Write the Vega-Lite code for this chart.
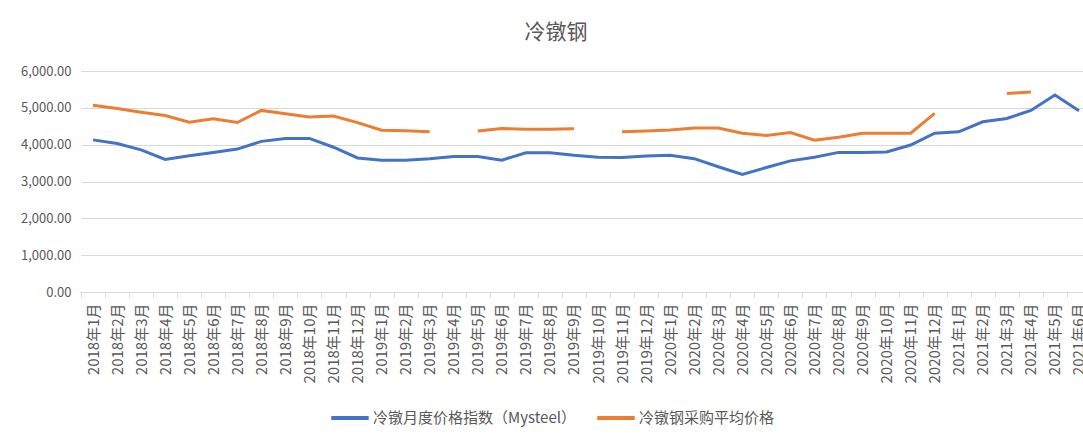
{
  "$schema": "https://vega.github.io/schema/vega-lite/v6.json",
  "autosize": "none",
  "width": 1010,
  "height": 221,
  "padding": {"left": 81, "top": 71, "right": -8, "bottom": 143},
  "background": "white",
  "config": {
    "font": "Noto Sans CJK SC",
    "view": {"stroke": null}
  },
  "title": {
    "text": "冷镦钢",
    "fontSize": 21,
    "fontWeight": "normal",
    "color": "#595959",
    "anchor": "middle",
    "dx": -30,
    "offset": 22
  },
  "data": {
    "values": [
      {"m": "2018年1月", "s": "冷镦月度价格指数（Mysteel）", "v": 4130},
      {"m": "2018年2月", "s": "冷镦月度价格指数（Mysteel）", "v": 4030},
      {"m": "2018年3月", "s": "冷镦月度价格指数（Mysteel）", "v": 3860},
      {"m": "2018年4月", "s": "冷镦月度价格指数（Mysteel）", "v": 3600},
      {"m": "2018年5月", "s": "冷镦月度价格指数（Mysteel）", "v": 3700},
      {"m": "2018年6月", "s": "冷镦月度价格指数（Mysteel）", "v": 3790},
      {"m": "2018年7月", "s": "冷镦月度价格指数（Mysteel）", "v": 3880},
      {"m": "2018年8月", "s": "冷镦月度价格指数（Mysteel）", "v": 4090},
      {"m": "2018年9月", "s": "冷镦月度价格指数（Mysteel）", "v": 4170},
      {"m": "2018年10月", "s": "冷镦月度价格指数（Mysteel）", "v": 4170},
      {"m": "2018年11月", "s": "冷镦月度价格指数（Mysteel）", "v": 3930},
      {"m": "2018年12月", "s": "冷镦月度价格指数（Mysteel）", "v": 3640},
      {"m": "2019年1月", "s": "冷镦月度价格指数（Mysteel）", "v": 3580},
      {"m": "2019年2月", "s": "冷镦月度价格指数（Mysteel）", "v": 3580},
      {"m": "2019年3月", "s": "冷镦月度价格指数（Mysteel）", "v": 3620},
      {"m": "2019年4月", "s": "冷镦月度价格指数（Mysteel）", "v": 3680},
      {"m": "2019年5月", "s": "冷镦月度价格指数（Mysteel）", "v": 3680},
      {"m": "2019年6月", "s": "冷镦月度价格指数（Mysteel）", "v": 3580},
      {"m": "2019年7月", "s": "冷镦月度价格指数（Mysteel）", "v": 3780},
      {"m": "2019年8月", "s": "冷镦月度价格指数（Mysteel）", "v": 3780},
      {"m": "2019年9月", "s": "冷镦月度价格指数（Mysteel）", "v": 3710},
      {"m": "2019年10月", "s": "冷镦月度价格指数（Mysteel）", "v": 3660},
      {"m": "2019年11月", "s": "冷镦月度价格指数（Mysteel）", "v": 3650},
      {"m": "2019年12月", "s": "冷镦月度价格指数（Mysteel）", "v": 3690},
      {"m": "2020年1月", "s": "冷镦月度价格指数（Mysteel）", "v": 3710},
      {"m": "2020年2月", "s": "冷镦月度价格指数（Mysteel）", "v": 3620},
      {"m": "2020年3月", "s": "冷镦月度价格指数（Mysteel）", "v": 3400},
      {"m": "2020年4月", "s": "冷镦月度价格指数（Mysteel）", "v": 3190},
      {"m": "2020年5月", "s": "冷镦月度价格指数（Mysteel）", "v": 3380},
      {"m": "2020年6月", "s": "冷镦月度价格指数（Mysteel）", "v": 3560},
      {"m": "2020年7月", "s": "冷镦月度价格指数（Mysteel）", "v": 3660},
      {"m": "2020年8月", "s": "冷镦月度价格指数（Mysteel）", "v": 3790},
      {"m": "2020年9月", "s": "冷镦月度价格指数（Mysteel）", "v": 3790},
      {"m": "2020年10月", "s": "冷镦月度价格指数（Mysteel）", "v": 3800},
      {"m": "2020年11月", "s": "冷镦月度价格指数（Mysteel）", "v": 3990},
      {"m": "2020年12月", "s": "冷镦月度价格指数（Mysteel）", "v": 4310},
      {"m": "2021年1月", "s": "冷镦月度价格指数（Mysteel）", "v": 4350},
      {"m": "2021年2月", "s": "冷镦月度价格指数（Mysteel）", "v": 4620},
      {"m": "2021年3月", "s": "冷镦月度价格指数（Mysteel）", "v": 4710},
      {"m": "2021年4月", "s": "冷镦月度价格指数（Mysteel）", "v": 4930},
      {"m": "2021年5月", "s": "冷镦月度价格指数（Mysteel）", "v": 5350},
      {"m": "2021年6月", "s": "冷镦月度价格指数（Mysteel）", "v": 4920},
      {"m": "2018年1月", "s": "冷镦钢采购平均价格", "v": 5070},
      {"m": "2018年2月", "s": "冷镦钢采购平均价格", "v": 4980},
      {"m": "2018年3月", "s": "冷镦钢采购平均价格", "v": 4880},
      {"m": "2018年4月", "s": "冷镦钢采购平均价格", "v": 4790},
      {"m": "2018年5月", "s": "冷镦钢采购平均价格", "v": 4610},
      {"m": "2018年6月", "s": "冷镦钢采购平均价格", "v": 4700},
      {"m": "2018年7月", "s": "冷镦钢采购平均价格", "v": 4600},
      {"m": "2018年8月", "s": "冷镦钢采购平均价格", "v": 4930},
      {"m": "2018年9月", "s": "冷镦钢采购平均价格", "v": 4840},
      {"m": "2018年10月", "s": "冷镦钢采购平均价格", "v": 4750},
      {"m": "2018年11月", "s": "冷镦钢采购平均价格", "v": 4780},
      {"m": "2018年12月", "s": "冷镦钢采购平均价格", "v": 4600},
      {"m": "2019年1月", "s": "冷镦钢采购平均价格", "v": 4390},
      {"m": "2019年2月", "s": "冷镦钢采购平均价格", "v": 4380},
      {"m": "2019年3月", "s": "冷镦钢采购平均价格", "v": 4350},
      {"m": "2019年4月", "s": "冷镦钢采购平均价格", "v": null},
      {"m": "2019年5月", "s": "冷镦钢采购平均价格", "v": 4370},
      {"m": "2019年6月", "s": "冷镦钢采购平均价格", "v": 4440},
      {"m": "2019年7月", "s": "冷镦钢采购平均价格", "v": 4420},
      {"m": "2019年8月", "s": "冷镦钢采购平均价格", "v": 4420},
      {"m": "2019年9月", "s": "冷镦钢采购平均价格", "v": 4430},
      {"m": "2019年10月", "s": "冷镦钢采购平均价格", "v": null},
      {"m": "2019年11月", "s": "冷镦钢采购平均价格", "v": 4350},
      {"m": "2019年12月", "s": "冷镦钢采购平均价格", "v": 4370},
      {"m": "2020年1月", "s": "冷镦钢采购平均价格", "v": 4400},
      {"m": "2020年2月", "s": "冷镦钢采购平均价格", "v": 4450},
      {"m": "2020年3月", "s": "冷镦钢采购平均价格", "v": 4450},
      {"m": "2020年4月", "s": "冷镦钢采购平均价格", "v": 4310},
      {"m": "2020年5月", "s": "冷镦钢采购平均价格", "v": 4250},
      {"m": "2020年6月", "s": "冷镦钢采购平均价格", "v": 4330},
      {"m": "2020年7月", "s": "冷镦钢采购平均价格", "v": 4120},
      {"m": "2020年8月", "s": "冷镦钢采购平均价格", "v": 4200},
      {"m": "2020年9月", "s": "冷镦钢采购平均价格", "v": 4310},
      {"m": "2020年10月", "s": "冷镦钢采购平均价格", "v": 4310},
      {"m": "2020年11月", "s": "冷镦钢采购平均价格", "v": 4310},
      {"m": "2020年12月", "s": "冷镦钢采购平均价格", "v": 4850},
      {"m": "2021年1月", "s": "冷镦钢采购平均价格", "v": null},
      {"m": "2021年2月", "s": "冷镦钢采购平均价格", "v": null},
      {"m": "2021年3月", "s": "冷镦钢采购平均价格", "v": 5390},
      {"m": "2021年4月", "s": "冷镦钢采购平均价格", "v": 5430},
      {"m": "2021年5月", "s": "冷镦钢采购平均价格", "v": null},
      {"m": "2021年6月", "s": "冷镦钢采购平均价格", "v": null}
    ]
  },
  "mark": {"type": "line", "strokeWidth": 3, "invalid": "break-paths-show-domains", "clip": false},
  "encoding": {
    "x": {
      "field": "m",
      "type": "nominal",
      "sort": null,
      "scale": {"type": "band", "paddingInner": 0, "paddingOuter": 0},
      "axis": {
        "title": null,
        "labelAngle": -90,
        "labelFontSize": 15,
        "labelColor": "#595959",
        "labelPadding": 6,
        "domainColor": "#d9d9d9",
        "tickColor": "#d9d9d9",
        "tickSize": 5,
        "tickBand": "extent",
        "grid": false
      }
    },
    "y": {
      "field": "v",
      "type": "quantitative",
      "scale": {"domain": [0, 6000], "nice": false},
      "axis": {
        "title": null,
        "values": [0, 1000, 2000, 3000, 4000, 5000, 6000],
        "format": ",.2f",
        "labelFontSize": 13,
        "labelColor": "#595959",
        "labelPadding": 10,
        "domain": false,
        "ticks": false,
        "gridColor": "#d9d9d9",
        "gridWidth": 1
      }
    },
    "color": {
      "field": "s",
      "type": "nominal",
      "sort": null,
      "scale": {
        "domain": ["冷镦月度价格指数（Mysteel）", "冷镦钢采购平均价格"],
        "range": ["#4472C4", "#ED7D31"]
      },
      "legend": {
        "title": null,
        "orient": "none",
        "direction": "horizontal",
        "legendX": 248,
        "legendY": 326,
        "padding": 0,
        "symbolType": "stroke",
        "symbolSize": 1400,
        "symbolStrokeWidth": 4,
        "labelFontSize": 15,
        "labelLimit": 0,
        "labelColor": "#595959",
        "labelOffset": 2,
        "columnPadding": 13
      }
    }
  }
}
